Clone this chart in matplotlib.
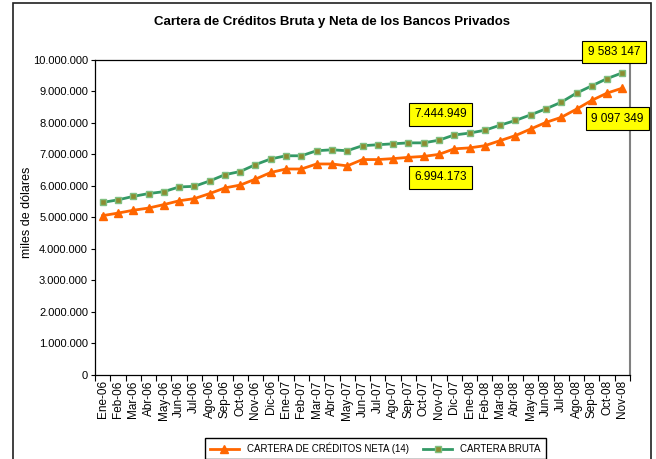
import matplotlib
matplotlib.use("Agg")
from matplotlib import pyplot as plt
from matplotlib.patches import Rectangle
import matplotlib.ticker as ticker
import numpy as np

plt.rcParams['font.family'] = ['Liberation Sans', 'DejaVu Sans']

meses = ['Ene-06', 'Feb-06', 'Mar-06', 'Abr-06', 'May-06', 'Jun-06', 'Jul-06', 'Ago-06',
         'Sep-06', 'Oct-06', 'Nov-06', 'Dic-06', 'Ene-07', 'Feb-07', 'Mar-07', 'Abr-07',
         'May-07', 'Jun-07', 'Jul-07', 'Ago-07', 'Sep-07', 'Oct-07', 'Nov-07', 'Dic-07',
         'Ene-08', 'Feb-08', 'Mar-08', 'Abr-08', 'May-08', 'Jun-08', 'Jul-08', 'Ago-08',
         'Sep-08', 'Oct-08', 'Nov-08']

# miles de dolares
cartera_neta = [5050000, 5130000, 5220000, 5290000, 5400000, 5520000, 5590000, 5750000,
                5930000, 6020000, 6210000, 6420000, 6530000, 6530000, 6690000, 6690000,
                6630000, 6830000, 6830000, 6860000, 6900000, 6930000, 6994173, 7170000,
                7200000, 7270000, 7430000, 7590000, 7800000, 8010000, 8170000, 8430000,
                8710000, 8940000, 9097349]
cartera_bruta = [5470000, 5550000, 5660000, 5750000, 5810000, 5960000, 5980000, 6150000,
                 6350000, 6450000, 6670000, 6850000, 6950000, 6950000, 7110000, 7140000,
                 7110000, 7270000, 7300000, 7330000, 7360000, 7360000, 7444949, 7610000,
                 7670000, 7760000, 7920000, 8070000, 8250000, 8440000, 8650000, 8940000,
                 9170000, 9400000, 9583147]

etiquetas = [(22, 'bruta', '7.444.949'), (22, 'neta', '6.994.173'),
             (34, 'bruta', '9 583 147'), (34, 'neta', '9 097 349')]


def miles(v, pos):
    return '{:,.0f}'.format(v).replace(',', '.')


def main():
    fig = plt.figure(figsize=(6.56, 4.59), dpi=100)
    ax = fig.add_axes([95 / 656, 1 - 374.7 / 459, 535 / 656, 315 / 459])

    x = np.arange(len(meses))
    ax.plot(x, cartera_neta, color='#FF6600', lw=2, marker='^', ms=5.5,
            label='CARTERA DE CRÉDITOS NETA (14)', zorder=3)
    ax.plot(x, cartera_bruta, color='#339966', lw=2, marker='s', ms=4.5,
            markerfacecolor='#8C8C30', markeredgecolor='#80C080', mew=1,
            label='CARTERA BRUTA', zorder=3)

    ax.set_xlim(-0.5, len(meses) - 0.5)
    ax.set_ylim(0, 10000000)
    ax.yaxis.set_major_locator(ticker.MultipleLocator(1000000))
    ax.yaxis.set_major_formatter(ticker.FuncFormatter(miles))
    ax.tick_params(axis='y', labelsize=8, length=3, width=0.8, direction='out', pad=2)

    ax.set_xticks(x)
    ax.set_xticklabels(meses, rotation=90, fontsize=8.5)
    ax.set_xticks(np.arange(-0.5, len(meses)), minor=True)
    ax.tick_params(axis='x', which='major', length=0, pad=4)
    ax.tick_params(axis='x', which='minor', length=4, width=0.8, direction='out')

    for s in ['left', 'bottom', 'top']:
        ax.spines[s].set_color('black')
        ax.spines[s].set_linewidth(0.9)
    ax.spines['right'].set_color('#808080')
    ax.spines['right'].set_linewidth(1.5)

    # etiquetas de datos
    offsets = {(22, 'bruta'): (1, 18.5), (22, 'neta'): (1, -16.6),
               (34, 'bruta'): (-6, 15), (34, 'neta'): (-3.5, -22)}
    for i, serie, txt in etiquetas:
        val = cartera_bruta[i] if serie == 'bruta' else cartera_neta[i]
        ax.annotate(txt, xy=(i, val), xytext=offsets[(i, serie)], textcoords='offset points',
                    ha='center', va='center', fontsize=8.5, zorder=5, annotation_clip=False,
                    bbox=dict(boxstyle='square,pad=0.45', fc='#FFFF00', ec='black', lw=0.8))

    fig.text(332 / 656, 1 - 22 / 459, 'Cartera de Créditos Bruta y Neta de los Bancos Privados',
             ha='center', va='center', fontsize=9.5, fontweight='bold')
    fig.text(27 / 656, 1 - 212 / 459, 'miles de dólares', rotation=90,
             ha='center', va='center', fontsize=9)

    fig.legend(loc='upper left', bbox_to_anchor=(200 / 656, 1 - 433 / 459), ncol=2,
               fontsize=7, frameon=True, fancybox=False, edgecolor='black',
               borderpad=0.5, handlelength=3, columnspacing=1.5, framealpha=1)

    fig.patches.append(Rectangle((13 / 656, -0.05), 638 / 656, 1.05 - 3 / 459,
                                 transform=fig.transFigure, fill=False,
                                 ec='#202020', lw=1.2))

    fig.savefig('out.png', dpi=100)


if __name__ == '__main__':
    main()
